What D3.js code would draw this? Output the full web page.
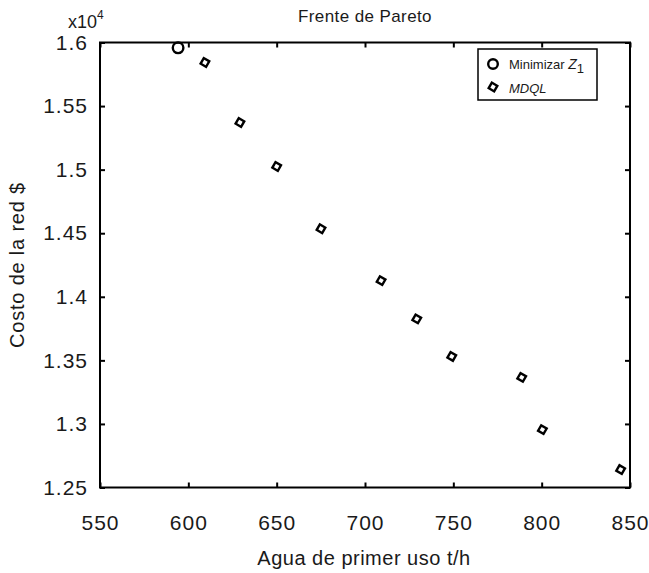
<!DOCTYPE html>
<html><head><meta charset="utf-8">
<script src="https://cdn.jsdelivr.net/npm/d3@7"></script>
<style>
body{margin:0;background:#fff;}
text{font-family:"Liberation Sans",Arial,sans-serif;fill:#1a1a1a;}
</style></head>
<body>
<svg id="c" width="649" height="573"></svg>
<script>
const xTicks=[550,600,650,700,750,800,850];
const yTicks=[1.25,1.3,1.35,1.4,1.45,1.5,1.55,1.6];
const minZ1X=[594.2];
const minZ1Y=[1.5958];
const mdqlX=[609.4,629.2,650.0,675.1,709.1,729.3,749.1,788.7,800.4,844.7];
const mdqlY=[1.5843,1.5371,1.5025,1.4535,1.4127,1.3826,1.3531,1.3366,1.2955,1.2641];

const L=100,R=630,T=42.5,B=487.5;
const svg=d3.select("#c");
const x=d3.scaleLinear().domain([550,850]).range([L,R]);
const y=d3.scaleLinear().domain([1.25,1.6]).range([B,T]);

svg.append("rect").attr("x",L).attr("y",T).attr("width",R-L).attr("height",B-T)
 .attr("fill","none").attr("stroke","#000").attr("stroke-width",2);

const fmtY=d=>String(+d.toFixed(2));
const gx=svg.append("g").attr("transform",`translate(0,${B})`)
 .call(d3.axisBottom(x).tickValues(xTicks).tickSize(-5).tickPadding(28).tickFormat(d3.format("d")));
const gxt=svg.append("g").attr("transform",`translate(0,${T})`)
 .call(d3.axisTop(x).tickValues(xTicks).tickSize(-5).tickFormat(""));
const gy=svg.append("g").attr("transform",`translate(${L},0)`)
 .call(d3.axisLeft(y).tickValues(yTicks).tickSize(-5).tickPadding(12).tickFormat(fmtY));
const gyr=svg.append("g").attr("transform",`translate(${R},0)`)
 .call(d3.axisRight(y).tickValues(yTicks).tickSize(-5).tickFormat(""));
[gx,gxt,gy,gyr].forEach(g=>{
 g.select(".domain").remove();
 g.selectAll(".tick line").attr("stroke","#000").attr("stroke-width",2);
 g.selectAll(".tick text").attr("font-size",21).attr("fill","#1a1a1a")
   .attr("letter-spacing",1)
   .style("font-family","'Liberation Sans',Arial,sans-serif");
});

const m=svg.append("text").attr("x",68).attr("y",28).attr("font-size",18);
m.append("tspan").text("x10");
m.append("tspan").attr("font-size",12).attr("dy",-9).text("4");

svg.append("text").attr("x",365).attr("y",22).attr("text-anchor","middle").attr("font-size",17).attr("letter-spacing",0.4).text("Frente de Pareto");
svg.append("text").attr("x",364).attr("y",565).attr("text-anchor","middle").attr("font-size",20).attr("letter-spacing",0.5).text("Agua de primer uso t/h");
svg.append("text").attr("transform","translate(24,265) rotate(-90)").attr("text-anchor","middle").attr("font-size",20).attr("letter-spacing",0.8).text("Costo de la red $");

const dia=d3.symbol().type(d3.symbolSquare).size(40);
svg.append("g").selectAll("circle").data(minZ1X.map((v,i)=>[v,minZ1Y[i]])).join("circle")
 .attr("cx",d=>x(d[0])).attr("cy",d=>y(d[1])).attr("r",5.3)
 .attr("fill","none").attr("stroke","#000").attr("stroke-width",2.4);
svg.append("g").selectAll("path").data(mdqlX.map((v,i)=>[v,mdqlY[i]])).join("path")
 .attr("d",dia).attr("transform",d=>`translate(${x(d[0])},${y(d[1])}) rotate(30)`)
 .attr("fill","none").attr("stroke","#000").attr("stroke-width",2.4);

const lg=svg.append("g");
lg.append("rect").attr("x",478).attr("y",49).attr("width",119).attr("height",51)
 .attr("fill","#fff").attr("stroke","#000").attr("stroke-width",1.5);
lg.append("circle").attr("cx",493).attr("cy",64).attr("r",4.8).attr("fill","none").attr("stroke","#000").attr("stroke-width",2.4);
lg.append("path").attr("d",dia).attr("transform","translate(493,87) rotate(30)").attr("fill","none").attr("stroke","#000").attr("stroke-width",2.4);
const t1=lg.append("text").attr("x",509).attr("y",69).attr("font-size",13);
t1.append("tspan").text("Minimizar ");
t1.append("tspan").attr("font-style","italic").attr("font-size",14).text("Z");
t1.append("tspan").attr("font-size",13).attr("dy",4).text("1");
lg.append("text").attr("x",509).attr("y",93).attr("font-size",13).attr("font-style","italic").text("MDQL");
</script>
</body></html>
